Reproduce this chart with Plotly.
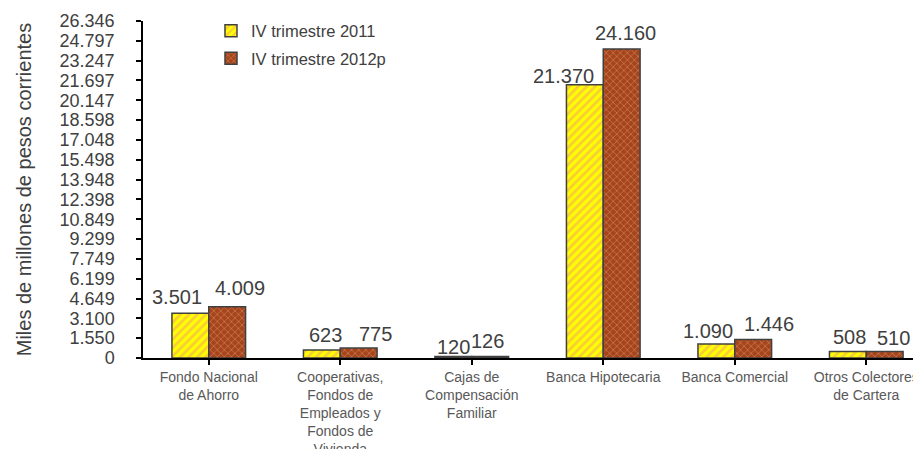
import plotly.graph_objects as go

categories = [
    "Fondo Nacional<br>de Ahorro",
    "Cooperativas,<br>Fondos de<br>Empleados y<br>Fondos de<br>Vivienda",
    "Cajas de<br>Compensación<br>Familiar",
    "Banca Hipotecaria",
    "Banca Comercial",
    "Otros Colectores<br>de Cartera",
]
series_2011_name = "IV trimestre 2011"
series_2012_name = "IV trimestre 2012p"
values_2011 = [3501, 623, 120, 21370, 1090, 508]
values_2012 = [4009, 775, 126, 24160, 1446, 510]

y_tick_labels = ["0", "1.550", "3.100", "4.649", "6.199", "7.749", "9.299", "10.849",
                 "12.398", "13.948", "15.498", "17.048", "18.598", "20.147", "21.697",
                 "23.247", "24.797", "26.346"]
y_tick_values = [int(s.replace(".", "")) for s in y_tick_labels]

# label nudges (pixels) as placed in the original chart
label_dx_2011 = [-13, 4, 0, -21, -8, 2]
label_dx_2012 = [13, 17, -3, 4, 16, 9]
label_gap_2011 = [9, 8, 2, 2, 6, 8]
label_gap_2012 = [12, 7, 8, 9, 9, 6]

TXT = "#404040"
FONT = "Liberation Sans, Arial, sans-serif"
BARGAP = 0.44
half = (1 - BARGAP) / 4

fig = go.Figure()
fig.add_trace(go.Bar(
    x=list(range(len(categories))), y=values_2011, name=series_2011_name,
    legendgroup="a",
    marker=dict(color="#FFFF00", line=dict(color="#404040", width=1.5),
                pattern=dict(shape="/", fgcolor="#F29A72", bgcolor="#FFFF00",
                             size=6, solidity=0.45)),
))
fig.add_trace(go.Bar(
    x=list(range(len(categories))), y=values_2012, name=series_2012_name,
    legendgroup="b",
    marker=dict(color="#A8441A", line=dict(color="#404040", width=1.5),
                pattern=dict(shape="x", fgcolor="#D9A68C", bgcolor="#A8441A",
                             size=5, solidity=0.3)),
))

annotations = []
for vals, dxs, gaps, sign in [(values_2011, label_dx_2011, label_gap_2011, -1),
                              (values_2012, label_dx_2012, label_gap_2012, 1)]:
    for i, v in enumerate(vals):
        annotations.append(dict(
            x=i + sign * half, y=v, xref="x", yref="y",
            text=f"{v:,}".replace(",", "."), showarrow=False,
            xanchor="center", yanchor="bottom",
            xshift=dxs[i], yshift=gaps[i] - 6,
            font=dict(size=20, color=TXT, family=FONT),
        ))

fig.update_layout(
    width=921, height=449,
    margin=dict(l=135, r=0, t=13, b=99, autoexpand=False),
    paper_bgcolor="white", plot_bgcolor="white",
    barmode="group", bargap=BARGAP, bargroupgap=0,
    font=dict(family=FONT, color=TXT),
    annotations=annotations,
    legend=dict(x=0.0865, y=1.022, xanchor="left", yanchor="top",
                font=dict(size=16.5, color=TXT, family=FONT),
                traceorder="grouped", tracegroupgap=3,
                bgcolor="rgba(0,0,0,0)"),
    xaxis=dict(
        tickmode="array", tickvals=list(range(len(categories))), ticktext=categories,
        range=[-0.5, 5.477], showline=True, linecolor="black", linewidth=1.5,
        ticks="outside", ticklen=5, tickcolor="black", tickwidth=1.5,
        tickson="boundaries",
        tickfont=dict(size=14, color="#595959", family=FONT),
        showgrid=False, zeroline=False, automargin=False,
    ),
    yaxis=dict(
        range=[0, 26346], tickmode="array", tickvals=y_tick_values, ticktext=y_tick_labels,
        showline=True, linecolor="black", linewidth=1.5,
        ticks="outside", ticklen=5, tickcolor="black", tickwidth=1.5,
        ticklabelstandoff=18,
        tickfont=dict(size=18, color=TXT, family=FONT),
        showgrid=False, zeroline=False, automargin=False,
        title=dict(text="Miles de millones de pesos corrientes",
                   font=dict(size=20, color=TXT, family=FONT), standoff=23),
    ),
)

fig.write_html("out.html")
